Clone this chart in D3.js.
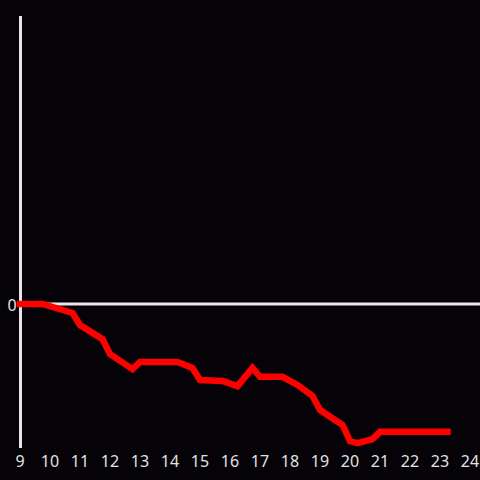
<!DOCTYPE html>
<html>
<head>
<meta charset="utf-8">
<script src="https://cdn.jsdelivr.net/npm/d3@7"></script>
<style>
  html, body { margin: 0; padding: 0; background: #050307; }
  svg { display: block; }
</style>
</head>
<body>
<div id="chart"></div>
<script>
// hour of day
const hours = [9, 9.75, 10.75, 11, 11.75, 12, 12.75, 13, 14.25, 14.75, 15, 15.75, 16.25,
               16.75, 17, 17.75, 18.25, 18.75, 19, 19.75, 20, 20.25, 20.75, 21, 23.25];
// value relative to zero
const values = [0, 0, -3.1, -7.3, -12.2, -17.4, -22.6, -20.1, -20.1, -22.2, -26.4, -26.7, -28.5,
                -22.2, -25.3, -25.3, -28.1, -31.9, -36.8, -42, -47.6, -48.3, -46.9, -44.4, -44.4];
const xTicks = d3.range(9, 25);
const yTicks = [0];

const width = 480, height = 480;
const margin = { top: 16, right: 10, bottom: 32, left: 20 };

const svg = d3.select('#chart')
    .append('svg')
    .attr('width', width)
    .attr('height', height);

svg.append('rect')
    .attr('width', width)
    .attr('height', height)
    .attr('fill', '#050307');

const xScale = d3.scaleLinear()
    .domain([9, 24])
    .range([margin.left, width - margin.right]);

const yScale = d3.scaleLinear()
    .domain([-50, 100])
    .range([height - margin.bottom, margin.top]);

// zero line
svg.append('line')
    .attr('x1', margin.left)
    .attr('x2', width)
    .attr('y1', yScale(0))
    .attr('y2', yScale(0))
    .attr('stroke', '#e6e6e6')
    .attr('stroke-width', 3);

// y axis line
svg.append('line')
    .attr('x1', margin.left + 0.5)
    .attr('x2', margin.left + 0.5)
    .attr('y1', margin.top)
    .attr('y2', height - margin.bottom)
    .attr('stroke', '#e6e6e6')
    .attr('stroke-width', 3);

// x labels
svg.append('g')
    .selectAll('text')
    .data(xTicks)
    .join('text')
    .attr('x', d => xScale(d))
    .attr('y', 466.5)
    .attr('text-anchor', 'middle')
    .attr('font-family', 'Noto Sans, sans-serif')
    .attr('font-size', 16)
    .attr('fill', '#e2e2e2')
    .text(d => d);

// y labels
svg.append('g')
    .selectAll('text')
    .data(yTicks)
    .join('text')
    .attr('x', 12)
    .attr('y', d => yScale(d) + 1)
    .attr('dy', '0.35em')
    .attr('text-anchor', 'middle')
    .attr('font-family', 'Noto Sans, sans-serif')
    .attr('font-size', 16)
    .attr('fill', '#e2e2e2')
    .text(d => d);

const line = d3.line()
    .x((d, i) => xScale(hours[i]))
    .y(d => yScale(d));

svg.append('path')
    .datum(values)
    .attr('fill', 'none')
    .attr('stroke', '#ff0000')
    .attr('stroke-width', 6.5)
    .attr('stroke-linecap', 'square')
    .attr('stroke-linejoin', 'miter')
    .attr('d', line);
</script>
</body>
</html>
